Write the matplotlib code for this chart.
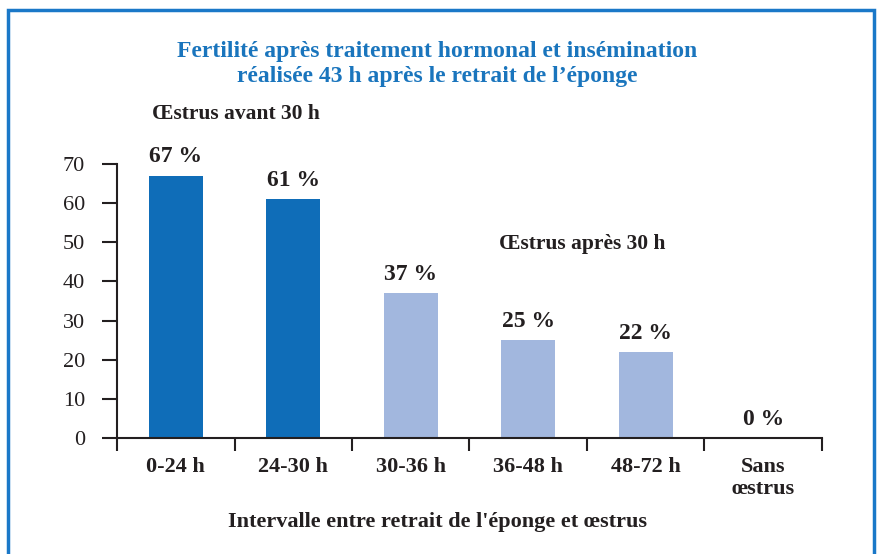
import numpy as np
import matplotlib.pyplot as plt
from matplotlib.patches import Rectangle

# Data
categories = ['0-24 h', '24-30 h', '30-36 h', '36-48 h', '48-72 h', 'Sans\nœstrus']
fertility = [67, 61, 37, 25, 22, 0]
labels = ['67 %', '61 %', '37 %', '25 %', '22 %', '0 %']
groups = ['avant', 'avant', 'apres', 'apres', 'apres', 'apres']

dark = '#0f6db8'
light = '#a2b7de'
ink = '#231f20'
blue_title = '#1a75bd'

plt.rcParams['font.family'] = ['Liberation Serif', 'DejaVu Serif']

fig = plt.figure(figsize=(8.79, 5.54), dpi=100)
ax = fig.add_axes([117/879, 1-438/554, 705/879, 274/554])

x = np.arange(len(categories))
colors = [dark if g == 'avant' else light for g in groups]
ax.bar(x, fertility, width=0.46, color=colors)

for xi, v, lab in zip(x, fertility, labels):
    ax.annotate(lab, (xi, v), xytext=(0, 6), textcoords='offset points',
                ha='center', va='bottom', fontsize=17, fontweight='bold', color=ink)

ax.set_xlim(-0.5, 5.5)
ax.set_ylim(0, 70)
ax.set_yticks(range(0, 71, 10))
ax.tick_params(axis='y', direction='out', length=11, width=1.5, labelsize=16,
               colors=ink, pad=12)
ax.set_xticks(x)
ax.set_xticklabels(categories, fontsize=16, fontweight='bold', color=ink,
                   linespacing=1.1)
ax.tick_params(axis='x', length=0, pad=14)
ax.set_xticks(np.arange(-0.5, 6, 1), minor=True)
ax.tick_params(axis='x', which='minor', direction='out', length=9, width=1.5, color=ink)

for s in ['top', 'right']:
    ax.spines[s].set_visible(False)
for s in ['left', 'bottom']:
    ax.spines[s].set_linewidth(1.5)
    ax.spines[s].set_color(ink)

ax.set_xlabel("Intervalle entre retrait de l'éponge et œstrus", fontsize=16,
              fontweight='bold', color=ink)
ax.xaxis.label.set_va('center')
ax.xaxis.set_label_coords((438-117)/705, -(522-438)/274)

fig.text(0.497, 1-64/554, "Fertilité après traitement hormonal et insémination\n"
         "réalisée 43 h après le retrait de l’éponge", ha='center', va='center',
         fontsize=17, fontweight='bold', color=blue_title, linespacing=1.25)
fig.text(152/879, 1-114/554, "Œstrus avant 30 h", ha='left', va='center',
         fontsize=15.5, fontweight='bold', color=ink)
fig.text(499/879, 1-244/554, "Œstrus après 30 h", ha='left', va='center',
         fontsize=15.5, fontweight='bold', color=ink)

fig.patches.append(Rectangle((8/879, -0.05), 866/879, 1.05 - 10/554,
                             transform=fig.transFigure, fill=False,
                             edgecolor='#1a78c8', linewidth=2.5))

plt.savefig('out.png', dpi=100)
